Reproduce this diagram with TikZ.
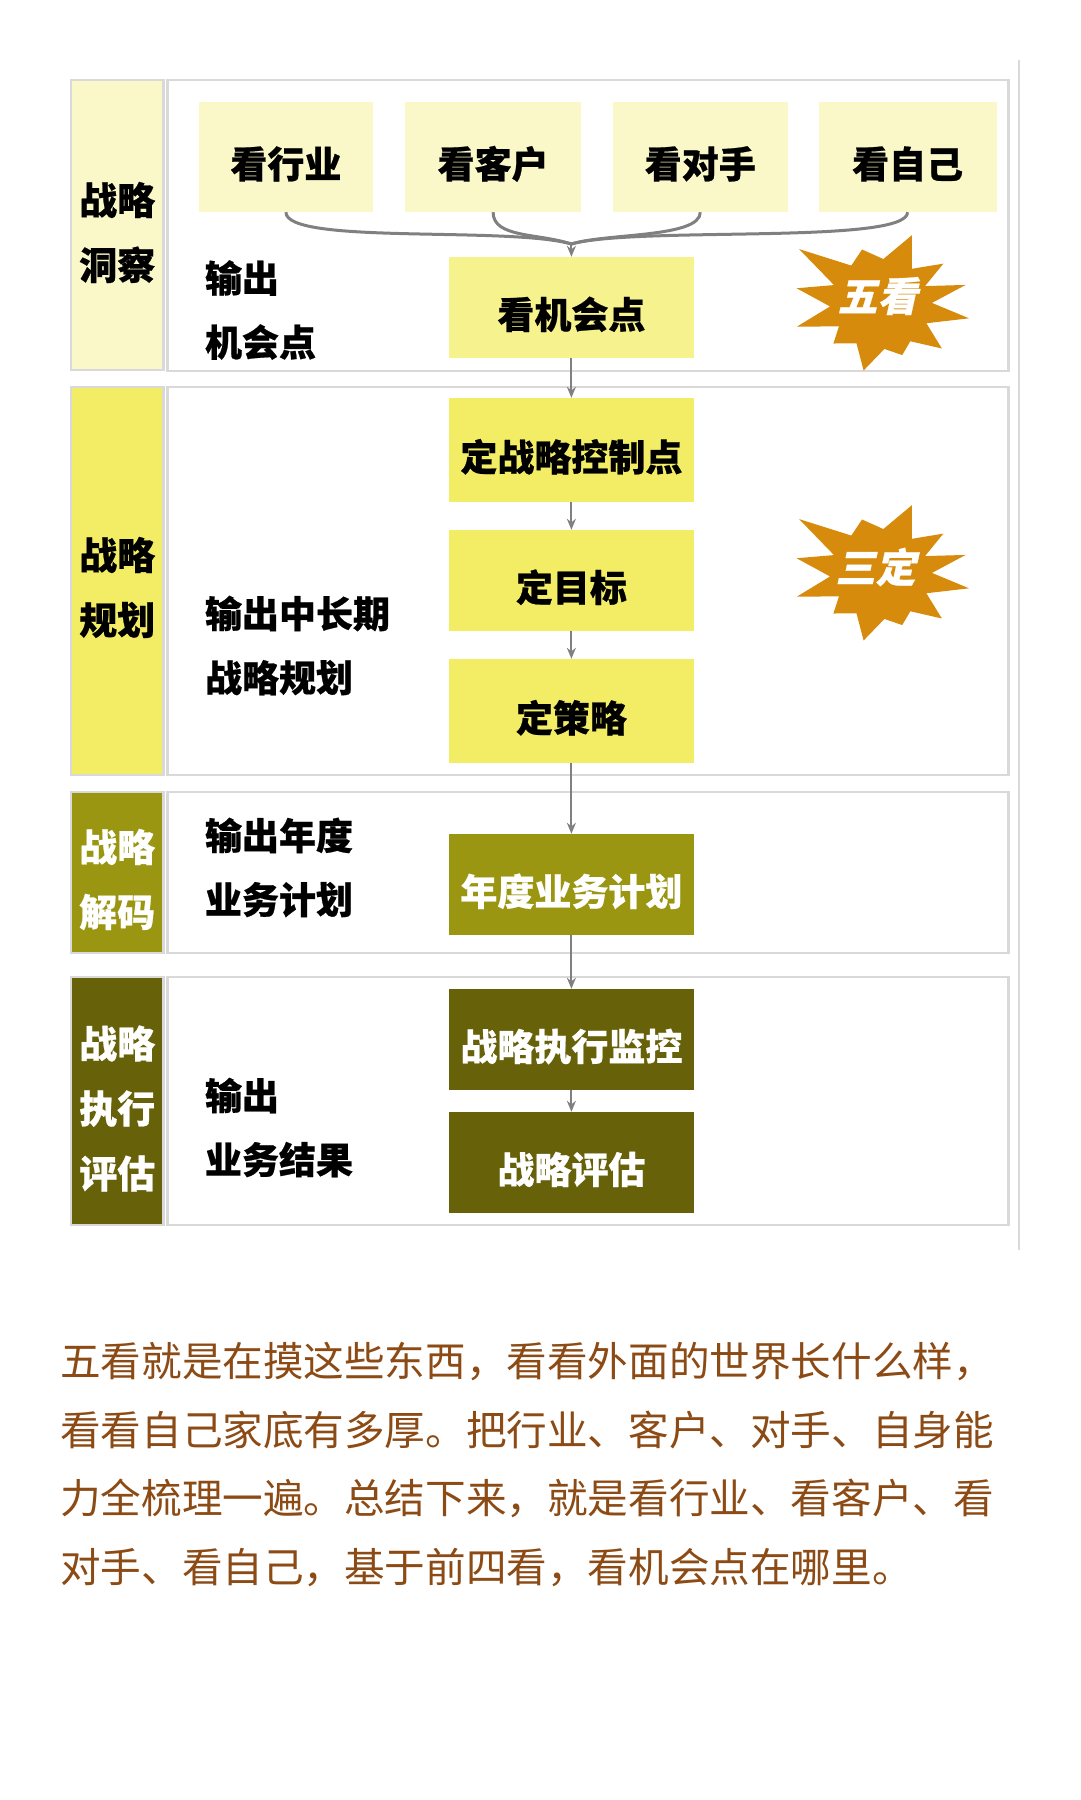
\documentclass[tikz,border=0pt]{standalone}
\usepackage{fontspec}
\newfontfamily\cjk{Noto Sans CJK SC}[BoldFeatures={FakeBold=0.6}]
\newfontfamily\cjkp{Noto Sans CJK SC}
\usetikzlibrary{arrows.meta}
\definecolor{paleyel}{HTML}{FAF8C8}
\definecolor{midyel}{HTML}{F6F28E}
\definecolor{brightyel}{HTML}{F3ED66}
\definecolor{olivec}{HTML}{9B9611}
\definecolor{darkolive}{HTML}{676109}
\definecolor{starorg}{HTML}{D68B0C}
\definecolor{bordergray}{HTML}{D9D9D9}
\definecolor{conngray}{HTML}{808080}
\definecolor{browntxt}{HTML}{8C4A14}
\tikzset{
  secbox/.style={draw=bordergray, line width=2.5pt, inner sep=0pt},
  boxfont/.style={font=\cjk\bfseries\fontsize{37}{44}\selectfont, text height=43pt, text depth=1pt},
  stepbox/.style={inner sep=0pt, minimum width=244.8pt, minimum height=101pt, boxfont},
  topbox/.style={fill=paleyel, inner sep=0pt, minimum height=110pt, boxfont},
  lbl/.style={align=center, inner sep=0pt, font=\cjk\bfseries\fontsize{38}{65}\selectfont},
  outtxt/.style={align=left, anchor=west, inner sep=0pt, font=\cjk\bfseries\fontsize{37}{64}\selectfont},
  conn/.style={draw=conngray, line width=2pt, -{Stealth[length=11pt,width=9pt]}},
  fanline/.style={draw=conngray, line width=3pt},
  burst/.style={fill=starorg},
  bursttxt/.style={text=white, inner sep=0pt, font=\cjk\bfseries\fontsize{40}{46}\selectfont, xslant=0.22, transform shape},
}
\begin{document}
\begin{tikzpicture}[x=1pt,y=-1pt]
\useasboundingbox (0,0) rectangle (1080,1800);
\fill[white] (0,0) rectangle (1080,1800);

% right vertical rule
\coordinate (vtop) at (1019,60);
\coordinate (vbot) at (1019,1250);
\draw[bordergray, line width=2pt] (vtop) -- (vbot);

% section frames
\node[secbox, fill=paleyel, minimum width=92.4pt, minimum height=290pt] (l1) at (117.2,225) {};
\node[secbox, fill=white, minimum width=840.7pt, minimum height=291pt] (r1) at (588,225.5) {};
\node[secbox, fill=brightyel, minimum width=92.4pt, minimum height=388pt] (l2) at (117.2,581) {};
\node[secbox, fill=white, minimum width=840.7pt, minimum height=388pt] (r2) at (588,581) {};
\node[secbox, fill=olivec, minimum width=92.4pt, minimum height=161pt] (l3) at (117.2,872.5) {};
\node[secbox, fill=white, minimum width=840.7pt, minimum height=161pt] (r3) at (588,872.5) {};
\node[secbox, fill=darkolive, minimum width=92.4pt, minimum height=248pt] (l4) at (117.2,1101) {};
\node[secbox, fill=white, minimum width=840.7pt, minimum height=248pt] (r4) at (588,1101) {};

% section labels
\node[lbl] (l1t) at (117.2,232.5) {战略\\洞察};
\node[lbl] (l2t) at (117.2,587.5) {战略\\规划};
\node[lbl, text=white] (l3t) at (117.2,879.5) {战略\\解码};
\node[lbl, text=white] (l4t) at (117.2,1108.5) {战略\\执行\\评估};

% output texts
\node[outtxt] (o1) at (204.8,310) {输出\\机会点};
\node[outtxt] (o2) at (204.8,645.5) {输出中长期\\战略规划};
\node[outtxt] (o3) at (204.8,867.5) {输出年度\\业务计划};
\node[outtxt] (o4) at (204.8,1127.5) {输出\\业务结果};

% top boxes
\node[topbox, minimum width=174.5pt] (t1) at (285.9,157) {看行业};
\node[topbox, minimum width=176.6pt] (t2) at (493.1,157) {看客户};
\node[topbox, minimum width=174.5pt] (t3) at (700.3,157) {看对手};
\node[topbox, minimum width=178pt] (t4) at (907.6,157) {看自己};

% step boxes
\node[stepbox, fill=midyel] (kjh) at (571.4,307.5) {看机会点};
\node[stepbox, fill=brightyel, minimum height=104pt] (ddl) at (571.4,450) {定战略控制点};
\node[stepbox, fill=brightyel] (dmb) at (571.4,580.5) {定目标};
\node[stepbox, fill=brightyel, minimum height=104pt] (dcl) at (571.4,711) {定策略};
\node[stepbox, fill=olivec, text=white] (nd) at (571.4,884.5) {年度业务计划};
\node[stepbox, fill=darkolive, text=white] (jk) at (571.4,1039.5) {战略执行监控};
\node[stepbox, fill=darkolive, text=white] (pg) at (571.4,1162.5) {战略评估};

% fan-in curves
\coordinate (merge) at (571.4,244);
\draw[fanline] (t1.south) .. controls (285.9,245) and (508,226) .. (merge);
\draw[fanline] (t2.south) .. controls (493.1,238) and (538,233) .. (merge);
\draw[fanline] (t3.south) .. controls (700.3,238) and (606,233) .. (merge);
\draw[fanline] (t4.south) .. controls (907.6,245) and (636,226) .. (merge);
\draw[conn] (merge) -- (kjh.north);

% vertical arrows
\draw[conn] (kjh.south) -- (ddl.north);
\draw[conn] (ddl.south) -- (dmb.north);
\draw[conn] (dmb.south) -- (dcl.north);
\draw[conn] (dcl.south) -- (nd.north);
\draw[conn] (nd.south) -- (jk.north);
\draw[conn] (jk.south) -- (pg.north);

% bursts
\begin{scope}[shift={(882,305)}]
\fill[burst] (-66.8:76) -- (-50.4:47) -- (-34:74) -- (-23.75:47) -- (-13.5:86) -- (-2.4:50) -- (8.7:88) -- (22.35:48) -- (36:74) -- (52:46) -- (68:54) -- (86.85:44) -- (105.7:68) -- (123.65:46) -- (141.6:62) -- (153.65:48) -- (165.7:88) -- (178.4:52) -- (191.1:87) -- (202.55:52) -- (214:100) -- (232.1:50) -- (250.2:59) -- (271.7:46) -- cycle;
\end{scope}
\begin{scope}[shift={(882,575)}]
\fill[burst] (-66.8:76) -- (-50.4:47) -- (-34:74) -- (-23.75:47) -- (-13.5:86) -- (-2.4:50) -- (8.7:88) -- (22.35:48) -- (36:74) -- (52:46) -- (68:54) -- (86.85:44) -- (105.7:68) -- (123.65:46) -- (141.6:62) -- (153.65:48) -- (165.7:88) -- (178.4:52) -- (191.1:87) -- (202.55:52) -- (214:100) -- (232.1:50) -- (250.2:59) -- (271.7:46) -- cycle;
\end{scope}
\node[bursttxt] (b1) at (881,296) {五看};
\node[bursttxt] (b2) at (879,567) {三定};

% paragraph
\node[anchor=north west, align=left, inner sep=0pt, text=browntxt, font=\cjkp\fontsize{40.6}{68.5}\selectfont] (para) at (60,1342) {五看就是在摸这些东西，看看外面的世界长什么样，\\看看自己家底有多厚。把行业、客户、对手、自身能\\力全梳理一遍。总结下来，就是看行业、看客户、看\\对手、看自己，基于前四看，看机会点在哪里。};
\end{tikzpicture}
\end{document}
